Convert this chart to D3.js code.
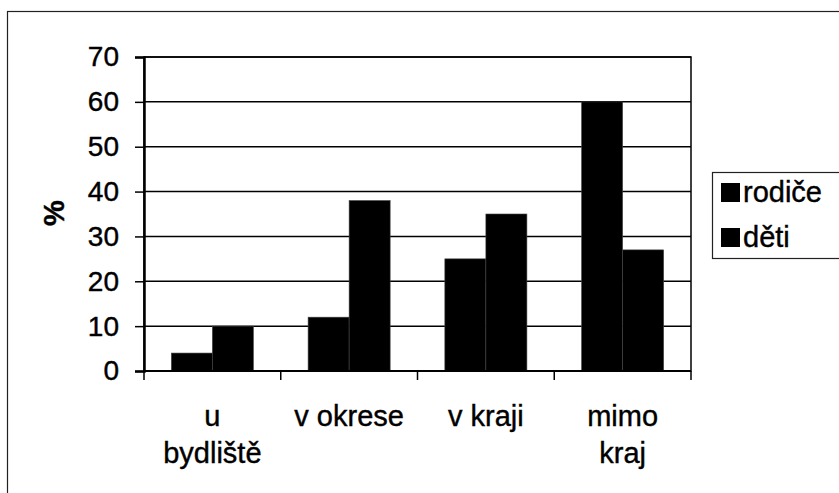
<!DOCTYPE html>
<html>
<head>
<meta charset="utf-8">
<script src="https://cdn.jsdelivr.net/npm/d3@7"></script>
<style>
  body { margin: 0; background: #fff; }
  text { font-family: "Liberation Sans", Arial, sans-serif; fill: #000; stroke: #000; stroke-width: 0.4px; }
</style>
</head>
<body>
<svg id="chart" width="839" height="493"></svg>
<script>
// chart data
var categories = [["u", "bydliště"], ["v okrese"], ["v kraji"], ["mimo", "kraj"]];
var seriesNames = ["rodiče", "děti"];
var rodice = [4, 12, 25, 60];
var deti = [10, 38, 35, 27];
var yTicks = [0, 10, 20, 30, 40, 50, 60, 70];

var svg = d3.select("#chart");

// outer frame of the chart (runs off right and bottom of the picture)
svg.append("rect")
    .attr("x", 7.5).attr("y", 11.5)
    .attr("width", 845).attr("height", 500)
    .attr("fill", "none").attr("stroke", "#222").attr("stroke-width", 1.2);

var plotLeft = 144, plotRight = 691, plotTop = 57, plotBottom = 371;

var x0 = d3.scaleBand().domain(d3.range(categories.length)).range([plotLeft, plotRight]).padding(0);
var bw = x0.bandwidth();
var x1 = d3.scaleBand().domain(seriesNames).range([bw * 0.2, bw * 0.8]).padding(0);
var y = d3.scaleLinear().domain([0, 70]).range([plotBottom, plotTop]);

// gridlines
svg.append("g").selectAll("line")
    .data(yTicks)
    .join("line")
    .attr("x1", plotLeft).attr("x2", plotRight)
    .attr("y1", d => y(d)).attr("y2", d => y(d))
    .attr("stroke", "#000").attr("stroke-width", 1.5);

// bars
var rows = categories.map((c, i) => ({ i: i, values: [rodice[i], deti[i]] }));
var groups = svg.append("g").selectAll("g")
    .data(rows)
    .join("g")
    .attr("transform", d => "translate(" + x0(d.i) + ",0)");

groups.selectAll("rect")
    .data(d => d.values.map((v, k) => ({ name: seriesNames[k], value: v })))
    .join("rect")
    .attr("x", d => x1(d.name))
    .attr("width", x1.bandwidth())
    .attr("y", d => y(d.value))
    .attr("height", d => y(0) - y(d.value))
    .attr("fill", "#000")
    .attr("stroke", "#444").attr("stroke-width", 0.6);

// plot frame
svg.append("rect")
    .attr("x", plotLeft).attr("y", plotTop)
    .attr("width", plotRight - plotLeft).attr("height", plotBottom - plotTop)
    .attr("fill", "none").attr("stroke", "#000").attr("stroke-width", 1.5);

// y axis
var yAxis = d3.axisLeft(y).tickValues(yTicks).tickSize(9).tickPadding(16);
var gy = svg.append("g").attr("transform", "translate(" + plotLeft + ",0)").call(yAxis);
gy.select(".domain").attr("stroke", "#000").attr("stroke-width", 2.5);
gy.selectAll(".tick line").attr("stroke", "#000").attr("stroke-width", 1.5);
gy.selectAll(".tick text")
    .attr("font-size", 28)
    .attr("font-family", "Liberation Sans, Arial, sans-serif")
    .attr("fill", "#000");

// x axis: ticks between categories
var xTickPos = d3.range(categories.length + 1).map(i => i === categories.length ? plotRight : x0(i));
svg.append("line")
    .attr("x1", plotLeft).attr("x2", plotRight)
    .attr("y1", plotBottom).attr("y2", plotBottom)
    .attr("stroke", "#000").attr("stroke-width", 2);
svg.append("g").selectAll("line")
    .data(xTickPos)
    .join("line")
    .attr("x1", d => d).attr("x2", d => d)
    .attr("y1", plotBottom).attr("y2", plotBottom + 9)
    .attr("stroke", "#000").attr("stroke-width", 1.5);

// category labels
var labels = svg.append("g").selectAll("text")
    .data(categories)
    .join("text")
    .attr("text-anchor", "middle")
    .attr("font-size", 29)
    .attr("x", (d, i) => x0(i) + bw / 2)
    .attr("y", 426);
labels.selectAll("tspan")
    .data(d => d)
    .join("tspan")
    .attr("x", function () { return d3.select(this.parentNode).attr("x"); })
    .attr("dy", (d, k) => k === 0 ? 0 : 37)
    .text(d => d);

// y axis title
svg.append("text")
    .attr("transform", "translate(64,213) rotate(-90)")
    .attr("text-anchor", "middle")
    .attr("font-size", 29)
    .attr("font-weight", "bold")
    .text("%");

// legend
var legend = svg.append("g");
legend.append("rect")
    .attr("x", 712.5).attr("y", 172.5)
    .attr("width", 140).attr("height", 86)
    .attr("fill", "#fff").attr("stroke", "#222").attr("stroke-width", 1.2);
var items = legend.selectAll("g")
    .data(seriesNames)
    .join("g")
    .attr("transform", (d, i) => "translate(721," + (183 + i * 45) + ")");
items.append("rect")
    .attr("width", 19).attr("height", 19)
    .attr("fill", "#000");
items.append("text")
    .attr("x", 22).attr("y", 19)
    .attr("font-size", 29)
    .text(d => d);
</script>
</body>
</html>
